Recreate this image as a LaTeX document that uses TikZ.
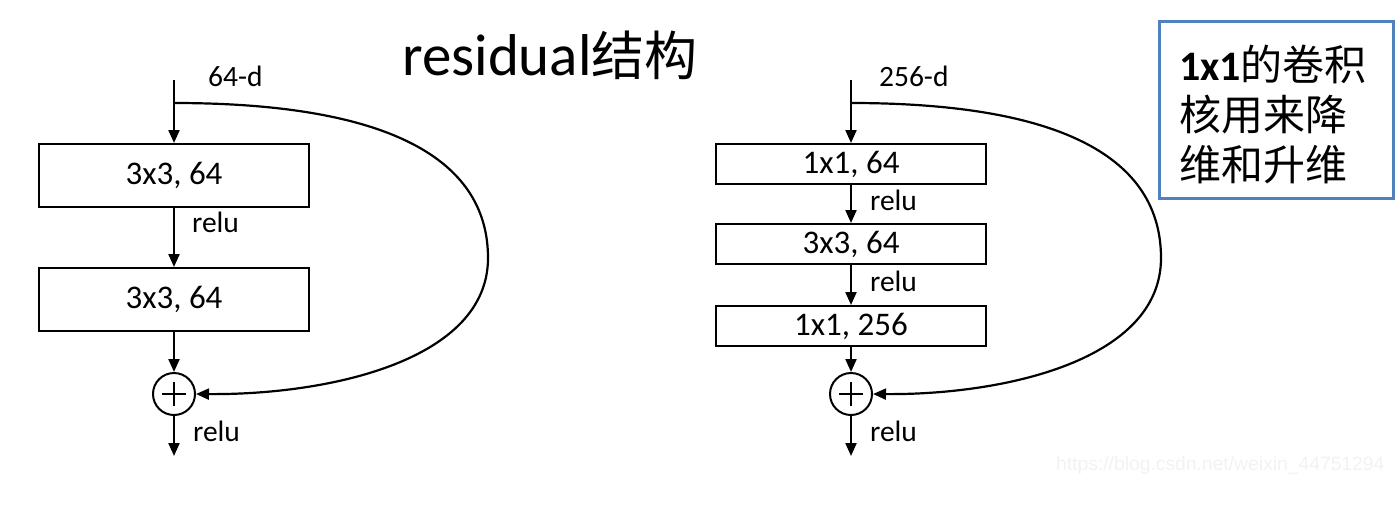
\documentclass[tikz,border=0pt]{standalone}
\usepackage{fontspec}
\setmainfont{Carlito}
\newfontfamily\cjk{Noto Sans CJK SC}
\newfontfamily\wmfont{Liberation Sans}
\usetikzlibrary{arrows.meta,calc}
\definecolor{boxblue}{HTML}{4F81BD}
\begin{document}
\begin{tikzpicture}[x=1pt,y=-1pt,
  line width=2.2pt,
  arr/.style={-{Triangle[length=13pt,width=11pt]}},
  layer/.style={draw,line width=2pt,minimum width=270pt,inner sep=0pt,font=\fontsize{33}{33}\selectfont},
  tall/.style={layer,minimum height=63pt},
  short/.style={layer,minimum height=40pt},
  lbl/.style={anchor=west,inner sep=0pt,font=\fontsize{29.5}{29.5}\selectfont},
  plus/.style={circle,draw,line width=2pt,minimum size=42pt,inner sep=0pt,
    path picture={\draw[line width=2pt] ($(path picture bounding box.center)+(-12pt,0)$) -- ++(24pt,0);
                  \draw[line width=2pt] ($(path picture bounding box.center)+(0,-12pt)$) -- ++(0,24pt);}},
]
\useasboundingbox (0,0) rectangle (1400,507);

% title
\node[inner sep=0pt,font=\fontsize{59}{59}\selectfont] (title) at (550,55) {residual{\cjk\fontsize{53}{53}\selectfont 结构}};

% left block
\coordinate (Lin) at (174,80);
\coordinate (Lbr) at (174,103);
\node[tall] (L1) at (174,175.5) {3x3, 64};
\node[tall] (L2) at (174,299.5) {3x3, 64};
\node[plus] (Lp) at (174,394) {};
\coordinate (Lout) at (174,456);
\coordinate (Lfar) at (488,258);
\node[lbl] (Ld) at (207,76) {64-d};
\node[lbl] (Lr1) at (191,222) {relu};
\node[lbl] (Lr2) at (192,431) {relu};
\draw[arr] (Lin) -- (L1.north);
\draw[arr] (L1.south) -- (L2.north);
\draw[arr] (L2.south) -- (Lp.north);
\draw[arr] (Lp.south) -- (Lout);
\draw (Lbr) .. controls (400,103) and (488,165) .. (Lfar);
\draw[arr] (Lfar) .. controls (488,360) and (330,395) .. (Lp.east);

% right block
\coordinate (Rin) at (851,80);
\coordinate (Rbr) at (851,103);
\node[short] (R1) at (851,164) {1x1, 64};
\node[short] (R2) at (851,244) {3x3, 64};
\node[short] (R3) at (851,326) {1x1, 256};
\node[plus] (Rp) at (851,394) {};
\coordinate (Rout) at (851,456);
\coordinate (Rfar) at (1161,258);
\node[lbl] (Rd) at (878,76) {256-d};
\node[lbl] (Rr1) at (869,200) {relu};
\node[lbl] (Rr2) at (869,281) {relu};
\node[lbl] (Rr3) at (869,431) {relu};
\draw[arr] (Rin) -- (R1.north);
\draw[arr] (R1.south) -- (R2.north);
\draw[arr] (R2.south) -- (R3.north);
\draw[arr] (R3.south) -- (Rp.north);
\draw[arr] (Rp.south) -- (Rout);
\draw (Rbr) .. controls (1075,103) and (1161,165) .. (Rfar);
\draw[arr] (Rfar) .. controls (1161,360) and (1005,395) .. (Rp.east);

% note box
\node[draw=boxblue,line width=3pt,minimum width=234pt,minimum height=177pt,inner sep=0pt] (note) at (1276.5,109.5) {};
\node[anchor=west,inner sep=0pt,align=left,font=\fontsize{42}{50}\selectfont] (notetext) at (1178,114)
  {{\bfseries 1x1}{\cjk 的卷积}\\{\cjk 核用来降}\\{\cjk 维和升维}};

% watermark
\node[anchor=west,inner sep=0pt,text=gray!10,font=\wmfont\fontsize{19.3}{19.3}\selectfont] (wm) at (1055,466) {https://blog.csdn.net/weixin\_44751294};
\end{tikzpicture}
\end{document}
